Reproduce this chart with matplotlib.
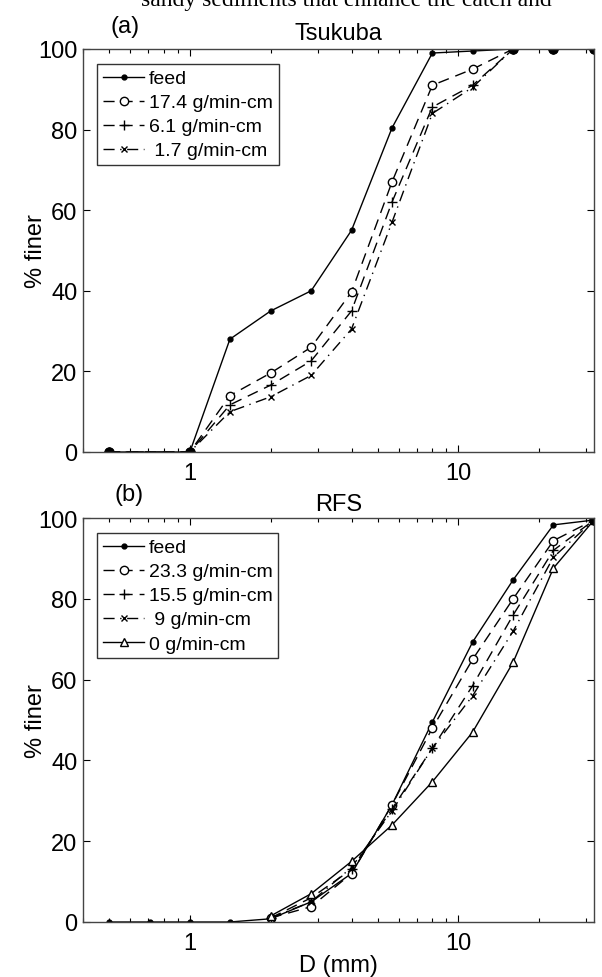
import matplotlib
matplotlib.use("Agg")
import matplotlib.pyplot as plt
from matplotlib.ticker import FixedLocator, NullFormatter, LogLocator

plt.rcParams['font.family'] = ['Liberation Sans', 'DejaVu Sans']

# --- dati ---
# (a) Tsukuba
d_a = [0.5, 1, 1.41, 2, 2.83, 4, 5.66, 8, 11.3, 16, 22.6, 32]
feed_a = [0, 0, 28, 35, 40, 55, 80.4, 99, 99.5, 100, 100, 100]
r174_a = [0, 0, 14, 19.6, 26, 39.7, 67, 91, 95, 100, 100, 100]
r61_a = [0, 0, 11.7, 16.6, 22.6, 35, 62, 85.6, 91, 100, 100, 100]
r17_a = [0, 0, 10, 13.7, 19, 30.5, 57, 84, 90.5, 100, 100, 100]
labels_a = ['feed', '17.4 g/min-cm', '6.1 g/min-cm', '1.7 g/min-cm']

# (b) RFS
d_b_feed = [0.5, 0.71, 1, 1.41, 2, 2.83, 4, 5.66, 8, 11.3, 16, 22.6, 32]
feed_b = [0, 0, 0, 0, 0.8, 5, 12, 29, 49.5, 69.3, 84.7, 98.3, 99.5]
d_b = [2, 2.83, 4, 5.66, 8, 11.3, 16, 22.6, 32]
r233_b = [1, 3.8, 12, 29, 48, 65, 80, 94.4, 99.5]
r155_b = [1, 6, 13, 28, 43, 58.5, 76, 92, 99.5]
r9_b = [1, 5, 13.5, 27.5, 43, 56, 72, 90.3, 99.5]
r0_b = [1.5, 7, 15, 24, 34.7, 47, 64.3, 87.6, 99.5]
labels_b = ['feed', '23.3 g/min-cm', '15.5 g/min-cm', '9 g/min-cm', '0 g/min-cm']

DASH = (8, 5)
DASHDOT = (8, 4, 1, 4)
FS = 17


def style_axes(ax):
    ax.set_xscale('log')
    ax.set_xlim(0.4, 32)
    ax.set_ylim(0, 100)
    ax.set_yticks([0, 20, 40, 60, 80, 100])
    ax.xaxis.set_major_locator(FixedLocator([1, 10]))
    ax.xaxis.set_minor_locator(LogLocator(base=10, subs=range(2, 10)))
    ax.xaxis.set_minor_formatter(NullFormatter())
    ax.set_xticklabels(['1', '10'])
    ax.tick_params(which='both', direction='in', top=True, right=True,
                   labelsize=FS)
    ax.tick_params(axis='x', pad=7)
    ax.tick_params(axis='y', pad=4)
    ax.tick_params(which='major', length=5, width=0.8)
    ax.tick_params(which='minor', length=3, width=0.8)
    for s in ax.spines.values():
        s.set_linewidth(1.0)
        s.set_color('#444444')
    ax.set_ylabel('% finer', fontsize=FS)
    ax.yaxis.set_label_coords(-0.07, 0.5)


def make_legend(ax):
    leg = ax.legend(loc='upper left', bbox_to_anchor=(0.028, 0.963),
                    fontsize=14, handlelength=2.1, handletextpad=0.25,
                    labelspacing=0.33, borderpad=0.3, fancybox=False,
                    framealpha=1, edgecolor='#333333', borderaxespad=0)
    leg.get_frame().set_linewidth(1.0)
    return leg


fig = plt.figure(figsize=(6.02, 9.78), dpi=100)

# testo tagliato in alto (pagina originale)
fig.text(0.575, 1 - 6 / 978, 'sandy sediments that enhance the catch and',
         ha='center', va='baseline', fontsize=17, family='Liberation Serif')

# --- pannello (a) ---
ax1 = fig.add_axes([83 / 602, 1 - 453 / 978, 511 / 602, 403 / 978])
ax1.plot(d_a, feed_a, 'k-', marker='.', ms=7, lw=1.0, label=labels_a[0])
ax1.plot(d_a, r174_a, color='k', ls='--', dashes=DASH, marker='o', ms=6,
         mfc='white', lw=1.0, label=labels_a[1])
ax1.plot(d_a, r61_a, color='k', ls='--', dashes=DASH, marker='+', ms=7,
         lw=1.0, label=labels_a[2])
ax1.plot(d_a, r17_a, color='k', ls='-.', dashes=DASHDOT, marker='x', ms=5,
         lw=1.0, label=' ' + labels_a[3])
# punti sovrapposti (grosso puntino come nell'originale)
ax1.plot(d_a[-3:], feed_a[-3:], 'k.', ms=13)
ax1.plot(d_a[:2], feed_a[:2], 'k.', ms=13)
style_axes(ax1)
ax1.set_title('Tsukuba', fontsize=FS, pad=7)
fig.text(110 / 602, 1 - 33 / 978, '(a)', fontsize=17, ha='left', va='baseline')
make_legend(ax1)

# --- pannello (b) ---
ax2 = fig.add_axes([83 / 602, 1 - 923 / 978, 511 / 602, 404 / 978])
ax2.plot(d_b_feed, feed_b, 'k-', marker='.', ms=7, lw=1.0, label=labels_b[0])
ax2.plot(d_b, r233_b, color='k', ls='--', dashes=DASH, marker='o', ms=6,
         mfc='white', lw=1.0, label=labels_b[1])
ax2.plot(d_b, r155_b, color='k', ls='--', dashes=DASH, marker='+', ms=7,
         lw=1.0, label=labels_b[2])
ax2.plot(d_b, r9_b, color='k', ls='-.', dashes=DASHDOT, marker='x', ms=5,
         lw=1.0, label=' ' + labels_b[3])
ax2.plot(d_b, r0_b, 'k-', marker='^', ms=6, mfc='white', lw=1.0,
         label=labels_b[4])
ax2.plot(d_b_feed[-1:], feed_b[-1:], 'k.', ms=13)
style_axes(ax2)
ax2.set_xlabel('D (mm)', fontsize=FS, labelpad=0)
ax2.set_title('RFS', fontsize=FS, pad=6)
fig.text(115 / 602, 1 - 501 / 978, '(b)', fontsize=17, ha='left', va='baseline')
make_legend(ax2)

fig.savefig('out.png', dpi=100)
